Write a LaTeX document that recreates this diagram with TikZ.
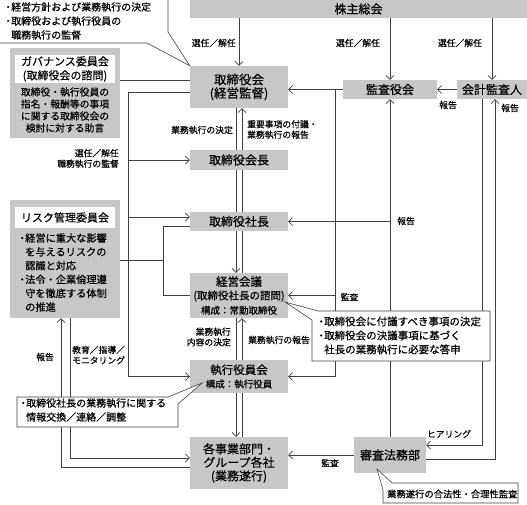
\documentclass[tikz,border=0pt]{standalone}
\usepackage{fontspec}
\setmainfont{Noto Sans CJK JP}[FakeBold=0.5]
\usetikzlibrary{arrows.meta,backgrounds}
\tikzset{
  box/.style={fill=black!22, inner sep=0pt, align=center, font=\fontsize{12}{13.5}\selectfont},
  namebox/.style={fill=white, inner sep=0pt, align=center, font=\fontsize{11}{14}\selectfont},
  callout/.style={draw=black!75, fill=white, line width=0.6pt},
  note/.style={inner sep=0pt, align=left, anchor=west, font=\fontsize{10}{14}\selectfont},
  lbl/.style={inner sep=0pt, align=center, font=\fontsize{8.8}{10.5}\selectfont},
  conn/.style={draw=black!75, line width=0.6pt},
  arr/.style={conn, -{Straight Barb[length=4pt,width=8pt]}},
}
\newcommand\bul{\makebox[6pt][c]{・}}
\begin{document}
\begin{tikzpicture}[x=1pt,y=-1pt]
  \useasboundingbox (0,0) rectangle (527,504);

  \node[box, minimum width=337pt, minimum height=18pt] (kabunushi) at (358.5,9) {株主総会};
  \node[box, minimum width=98pt, minimum height=42pt, font=\fontsize{12.5}{13.5}\selectfont] (tori) at (239,87) {取締役会\\(経営監督)};
  \node[box, minimum width=94pt, minimum height=19pt] (kansa) at (390,89.5) {監査役会};
  \node[box, minimum width=70pt, minimum height=19pt] (kaikei) at (492,89.5) {会計監査人};
  \node[box, minimum width=98pt, minimum height=20pt] (kaichou) at (239,160) {取締役会長};
  \node[box, minimum width=98pt, minimum height=19pt] (shachou) at (239,221.5) {取締役社長};
  \node[box, minimum width=98pt, minimum height=45pt] (keiei) at (239,295.5)
    {\fontsize{11.5}{13}\selectfont 経営会議\\\fontsize{10.5}{13}\selectfont (取締役社長の諮問)\\[1pt]\fontsize{9.5}{13}\selectfont 構成：常勤取締役};
  \node[box, minimum width=98pt, minimum height=33pt] (shikkou) at (239,376.5)
    {\fontsize{11.5}{13}\selectfont 執行役員会\\\fontsize{9.5}{13}\selectfont 構成：執行役員};
  \node[box, minimum width=98pt, minimum height=52pt] (jigyou) at (239,463) {各事業部門・\\グループ各社\\(業務遂行)};
  \node[box, minimum width=72pt, minimum height=36pt] (shinsa) at (390,455) {審査法務部};

  \node[box, minimum width=110pt, minimum height=90pt] (gov) at (65,93) {};
  \node[namebox, minimum width=100pt, minimum height=28pt] (govname) at (65,69) {ガバナンス委員会\\(取締役会の諮問)};
  \node[box, fill=none, font=\fontsize{9.8}{12}\selectfont] (govtext) at (65,110)
    {取締役・執行役員の\\指名・報酬等の事項\\に関する取締役会の\\検討に対する助言};

  \node[box, minimum width=110pt, minimum height=118pt] (risk) at (65,259) {};
  \node[namebox, minimum width=100pt, minimum height=21pt] (riskname) at (65,217.5) {リスク管理委員会};
  \node[note, font=\fontsize{10.2}{13.8}\selectfont] (risktext) at (19,272.5)
    {\bul 経営に重大な影響\\\hspace*{6pt}を与えるリスクの\\\hspace*{6pt}認識と対応\\\bul 法令・企業倫理遵\\\hspace*{6pt}守を徹底する体制\\\hspace*{6pt}の推進};

  \node[lbl, anchor=east] (sen1) at (236,43) {選任／解任};
  \node[lbl] (sen2) at (358,43) {選任／解任};
  \node[lbl] (sen3) at (460,43) {選任／解任};
  \node[lbl] (hok1) at (448,105) {報告};
  \node[lbl] (hok2) at (510,108) {報告};
  \node[lbl, anchor=east] (kettei) at (233,130) {業務執行の決定};
  \node[lbl, anchor=west, align=left] (fugi) at (247,129.5) {重要事項の付議・\\業務執行の報告};
  \node[lbl, anchor=east, align=right] (kantoku) at (119,158.5) {選任／解任\\職務執行の監督};
  \node[lbl] (hok3) at (406,221) {報告};
  \node[lbl] (kan1) at (349.5,297) {監査};
  \node[lbl, anchor=east, align=right] (naiyou) at (231,337) {業務執行\\内容の決定};
  \node[lbl, anchor=west] (hok4) at (248,340) {業務執行の報告};
  \node[lbl] (hok5) at (45,357) {報告};
  \node[lbl, anchor=west, align=left] (kyouiku) at (72,355) {教育／指導／\\モニタリング};
  \node[lbl] (hearing) at (449,434) {ヒアリング};
  \node[lbl] (kan2) at (330,463) {監査};

  \begin{scope}[on background layer]
    \draw[arr] (tori.north |- kabunushi.south) -- (tori.north);
    \draw[arr] (kansa.north |- kabunushi.south) -- (kansa.north);
    \draw[arr] (kaikei.north |- kabunushi.south) -- (kaikei.north);
    \draw[arr] (kaikei.west) -- (kansa.east);
    \draw[arr] (kansa.west) -- (kansa.west -| tori.east);
    \coordinate (kl) at (335,89.5);
    \draw[arr] (kl) |- (shikkou.east);
    \draw[arr] (kl |- keiei.east) -- (keiei.east);
    \draw[arr] (shinsa.north) -- (kansa.south);
    \draw[arr] (shinsa.north |- shachou.east) -- (shachou.east);
    \coordinate (hr) at (482,445);
    \draw[arr] (kaikei.south -| hr) |- (shinsa.east |- hr);
    \coordinate (ho) at (495,459);
    \draw[arr] (shinsa.east |- ho) -| (kaikei.south -| ho);
    \draw[arr] (shinsa.west) -- (shinsa.west -| jigyou.east);

    \draw[arr] ([xshift=-3pt]tori.south) -- ([xshift=-3pt]keiei.north);
    \draw[arr] ([xshift=3pt]keiei.north) -- ([xshift=3pt]tori.south);
    \draw[conn] ([xshift=-3pt]keiei.south) -- ([xshift=-3pt]shikkou.north);
    \draw[arr] ([xshift=3pt]shikkou.north) -- ([xshift=3pt]keiei.south);
    \draw[arr] ([xshift=-3pt]shikkou.south) -- ([xshift=-3pt]jigyou.north);
    \draw[conn] ([xshift=3pt]shikkou.south) -- ([xshift=3pt]jigyou.north);

    \coordinate (gl) at (120,80);
    \draw[conn] (gl) -- (tori.west |- gl);
    \coordinate (sv) at (128,92);
    \draw[arr] (tori.west |- sv) -- (sv) |- (shikkou.west);
    \draw[arr] (sv |- kaichou.west) -- (kaichou.west);
    \coordinate (sa) at ([yshift=4.5pt]shachou.west);
    \draw[arr] (sv |- sa) -- (sa);
    \coordinate (sb) at ([yshift=-4.5pt]shachou.west);
    \coordinate (rj) at (163,260);
    \draw[conn] (sb) -| (rj |- keiei.west) -- (keiei.west);
    \draw[conn] (risk.east |- rj) -- (rj);
    \coordinate (ed) at (70,458);
    \draw[arr] (risk.south -| ed) -- (ed) -- (jigyou.west |- ed);
    \coordinate (rp) at (61,467);
    \draw[arr] (jigyou.west |- rp) -- (rp) -- (risk.south -| rp);
  \end{scope}

  \draw[callout] (-2,-2) -- (168,-2) -- (168,32) -- (tori.north west) -- (147,43) -- (-2,43) -- cycle;
  \node[note] (memo1) at (5,21)
    {\bul 経営方針および業務執行の決定\\\bul 取締役および執行役員の\\\hspace*{6pt}職務執行の監督};

  \draw[callout] (318,311) -- (490,311) -- (490,361) -- (312,361) -- (312,320) -- (285,302) -- cycle;
  \node[note, font=\fontsize{10.5}{14}\selectfont] (memo2) at (318,335.5)
    {\bul 取締役会に付議すべき事項の決定\\\bul 取締役会の決議事項に基づく\\\hspace*{6pt}社長の業務執行に必要な答申};

  \draw[callout] (17,397) -- (168,397) -- (202,383) -- (178,404) -- (178,427) -- (17,427) -- cycle;
  \node[note] (memo3) at (20,410)
    {\bul 取締役社長の業務執行に関する\\\hspace*{6pt}情報交換／連絡／調整};

  \draw[callout] (392,483) -- (518,483) -- (518,503) -- (383,503) -- (383,490) -- (377,469) -- cycle;
  \node[note, font=\fontsize{9.3}{11}\selectfont] (memo4) at (387,494) {業務遂行の合法性・合理性監査};
\end{tikzpicture}
\end{document}
